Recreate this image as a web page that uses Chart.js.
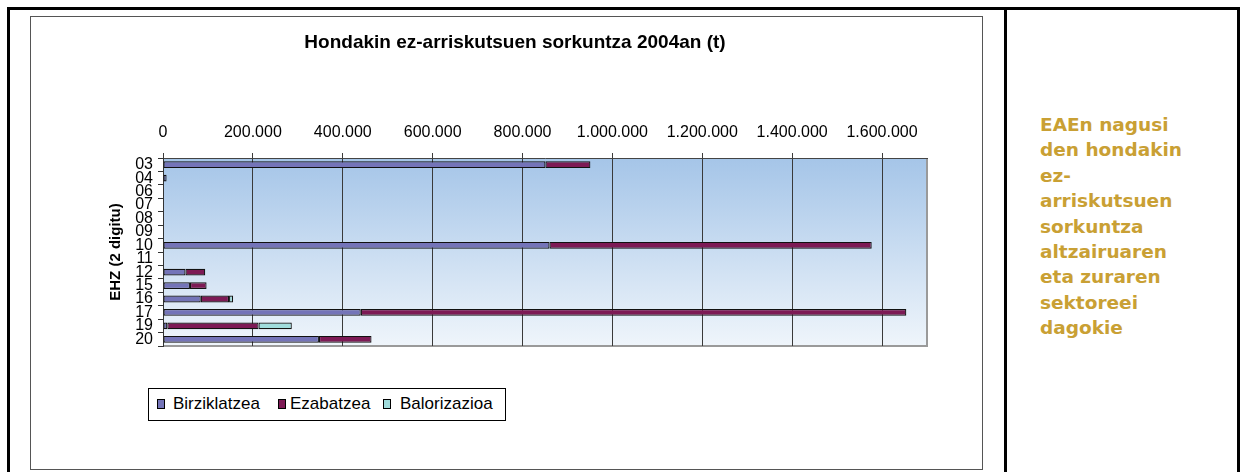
<!DOCTYPE html>
<html>
<head>
<meta charset="utf-8">
<script src="https://cdn.jsdelivr.net/npm/chart.js@4/dist/chart.umd.min.js"></script>
<style>
  html, body { margin: 0; padding: 0; background: #fff; width: 1240px; height: 472px; overflow: hidden; }
  .frame { position: absolute; left: 7px; top: 7px; width: 1240px; height: 480px; border-left: 3px solid #000; border-top: 3px solid #000; box-sizing: border-box; }
  .divider { position: absolute; left: 1004px; top: 7px; width: 3px; height: 480px; background: #000; }
  .rightedge { position: absolute; left: 1237px; top: 7px; width: 3px; height: 480px; background: #000; }
  .chartbox { position: absolute; left: 30px; top: 16px; width: 951px; height: 452px; border: 1px solid #555; }
  canvas { position: absolute; left: 0; top: 0; }
  .legend { position: absolute; width: 356px; height: 31px; border: 1px solid #000; background: #fff; font-family: "Liberation Sans", Arial, sans-serif; font-size: 17px; color: #000; }
  .legend .sw { position: absolute; top: 10px; width: 6px; height: 8px; border: 1px solid #000; }
  .legend .tx { position: absolute; top: 5px; line-height: 20px; white-space: nowrap; }
  .note { position: absolute; left: 1040px; top: 112px; font-family: "DejaVu Sans", Verdana, sans-serif; font-weight: bold; font-size: 18.5px; line-height: 25.4px; color: #C9A034; white-space: nowrap; }
</style>
</head>
<body>
<div class="frame"></div>
<div class="divider"></div>
<div class="rightedge"></div>
<div class="chartbox">
  <canvas id="c" width="950" height="451"></canvas>
  <div class="legend" id="legend" style="left:117px; top:371px;"></div>
</div>
<div class="note">EAEn nagusi<br>den hondakin<br>ez-<br>arriskutsuen<br>sorkuntza<br>altzairuaren<br>eta zuraren<br>sektoreei<br>dagokie</div>
<script>
// ---- data ----
const categories = ['03','04','06','07','08','09','10','11','12','15','16','17','19','20'];
const birziklatzea = [851000, 8000, 0, 0, 0, 0, 860000, 0, 50000, 60000, 84000, 440000, 9600, 347000];
const ezabatzea    = [100000, 0, 0, 0, 0, 0, 717000, 0, 44000, 37000, 63000, 1214000, 203000, 117000];
const balorizazioa = [0, 0, 0, 0, 0, 0, 0, 0, 0, 0, 9000, 0, 74000, 0];
const seriesNames = ['Birziklatzea', 'Ezabatzea', 'Balorizazioa'];
const seriesColors = ['#7474B8', '#7D1A55', '#A0DCDC'];
const xTickValues = [0, 200000, 400000, 600000, 800000, 1000000, 1200000, 1400000, 1600000];
const titleText = 'Hondakin ez-arriskutsuen sorkuntza 2004an (t)';
const yTitleText = 'EHZ (2 digitu)';

function fmt(v) { return String(v).replace(/\B(?=(\d{3})+(?!\d))/g, '.'); }

const bgPlugin = {
  id: 'plotBg',
  beforeDraw(chart) {
    const a = chart.chartArea, ctx = chart.ctx;
    const g = ctx.createLinearGradient(0, a.top, 0, a.bottom);
    g.addColorStop(0, '#A5C5E8');
    g.addColorStop(1, '#EFF5FB');
    ctx.save();
    ctx.fillStyle = g;
    ctx.fillRect(a.left, a.top, a.right - a.left, a.bottom - a.top);
    ctx.strokeStyle = '#9a9a9a';
    ctx.lineWidth = 2;
    ctx.beginPath();
    ctx.moveTo(a.right, a.top);
    ctx.lineTo(a.right, a.bottom);
    ctx.lineTo(a.left, a.bottom);
    ctx.stroke();
    ctx.restore();
  }
};

const allData = [birziklatzea, ezabatzea, balorizazioa];
const datasets = seriesNames.map((n, i) => ({
  label: n,
  data: allData[i],
  backgroundColor: seriesColors[i],
  borderColor: '#111',
  borderWidth: 1.2,
  borderSkipped: false,
  barPercentage: 0.9,
  categoryPercentage: 0.56
}));

new Chart(document.getElementById('c'), {
  type: 'bar',
  data: { labels: categories, datasets },
  options: {
    indexAxis: 'y',
    responsive: false,
    animation: false,
    devicePixelRatio: 1,
    layout: { padding: { left: 72, right: 54, top: 0, bottom: 122 } },
    plugins: {
      legend: { display: false },
      tooltip: { enabled: false },
      title: {
        display: true, text: titleText, color: '#000',
        font: { family: '"Liberation Sans", Arial, sans-serif', size: 19, weight: 'bold' },
        padding: { top: 14, bottom: 0 }
      }
    },
    scales: {
      x: {
        position: 'top', stacked: true, min: 0, max: 1700000,
        afterBuildTicks(s) { s.ticks = xTickValues.map(v => ({ value: v })); },
        afterFit(s) { s.height = 104.2; },
        ticks: { color: '#000', padding: 11, maxRotation: 0, autoSkip: false,
          font: { family: '"Liberation Sans", Arial, sans-serif', size: 16 },
          callback: (v) => fmt(v) },
        grid: { color: '#3a3a3a', lineWidth: 1, tickLength: 5, drawTicks: true },
        border: { display: true, color: '#444', width: 1 }
      },
      y: {
        stacked: true,
        afterFit(s) { s.width = 60; },
        ticks: { color: '#000', padding: 5, autoSkip: false,
          font: { family: '"Liberation Sans", Arial, sans-serif', size: 16 } },
        grid: { drawOnChartArea: false, offset: true, color: '#333', tickLength: 5 },
        border: { display: true, color: '#333', width: 1 },
        title: { display: true, text: yTitleText, color: '#000',
          font: { family: '"Liberation Sans", Arial, sans-serif', size: 15, weight: 'bold' } }
      }
    }
  },
  plugins: [bgPlugin]
});

// HTML legend built from the series arrays
const swX = [8, 129, 234];
const txX = [24, 141, 251];
const lg = document.getElementById('legend');
seriesNames.forEach((n, i) => {
  const s = document.createElement('span'); s.className = 'sw';
  s.style.left = swX[i] + 'px'; s.style.background = seriesColors[i];
  const t = document.createElement('span'); t.className = 'tx';
  t.style.left = txX[i] + 'px'; t.textContent = n;
  lg.appendChild(s); lg.appendChild(t);
});
</script>
</body>
</html>
